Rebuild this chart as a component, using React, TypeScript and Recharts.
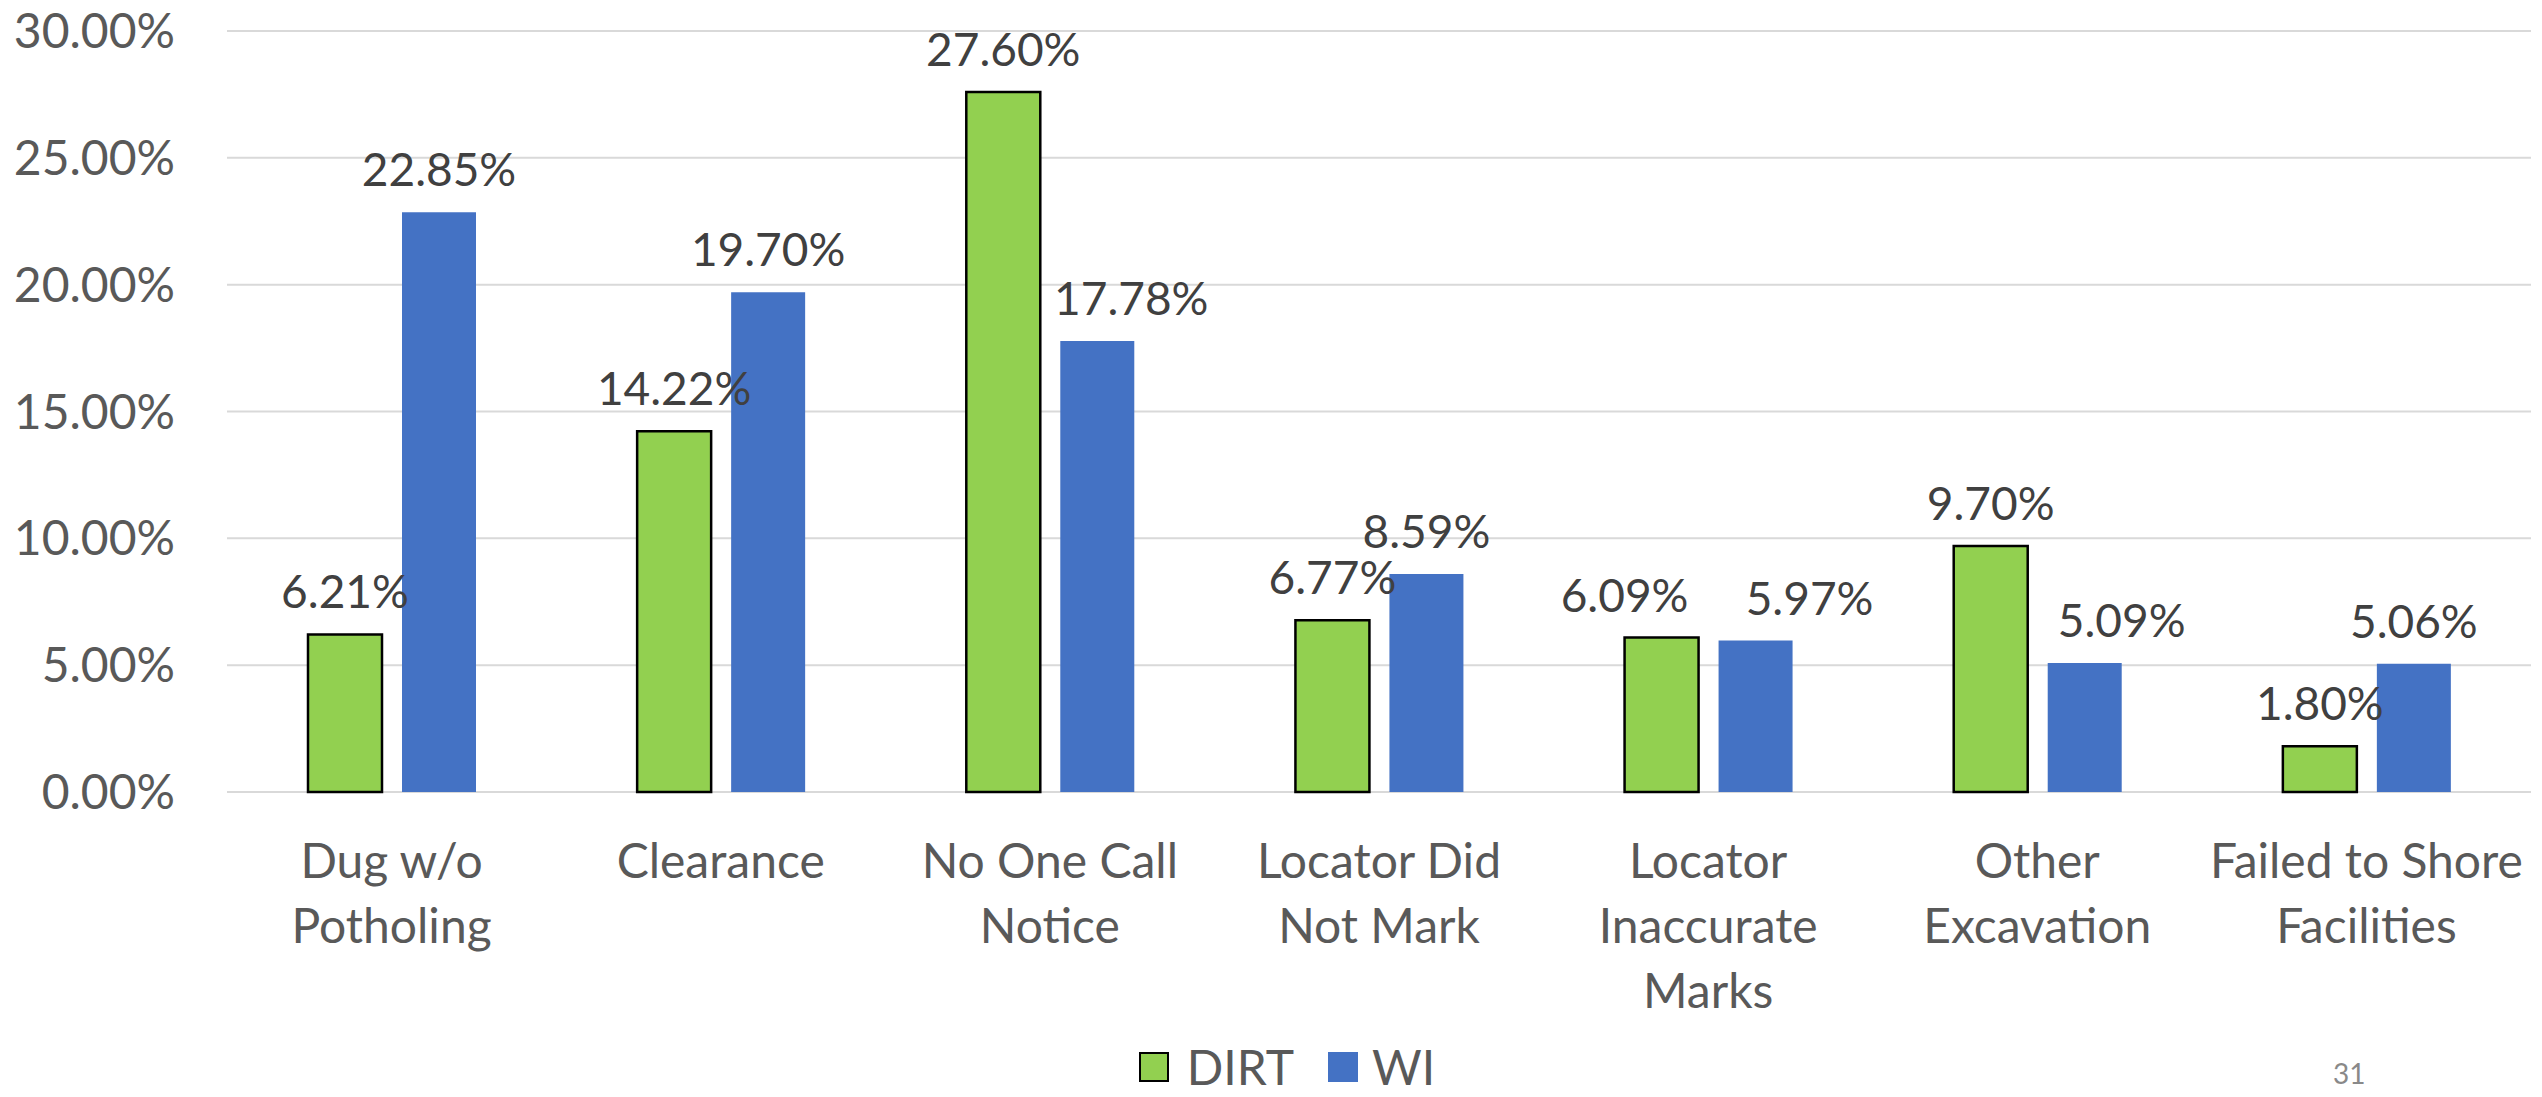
import { BarChart, Bar, XAxis, YAxis, CartesianGrid, Legend, LabelList } from "recharts";

// ─── Data ─────────────────────────────────────────────────────────────────────

const CATEGORIES = [
  "Dug w/o\nPotholing",
  "Clearance",
  "No One Call\nNotice",
  "Locator Did\nNot Mark",
  "Locator\nInaccurate\nMarks",
  "Other\nExcavation",
  "Failed to Shore\nFacilities",
];
const DIRT = [6.21, 14.22, 27.6, 6.77, 6.09, 9.7, 1.8];
const WI = [22.85, 19.7, 17.78, 8.59, 5.97, 5.09, 5.06];
const Y_TICKS = [0, 5, 10, 15, 20, 25, 30];
const PAGE_NUMBER = "31";

const data = CATEGORIES.map((name, i) => ({ name, dirt: DIRT[i], wi: WI[i] }));

// ─── Styles ───────────────────────────────────────────────────────────────────

const FONT = "Lato, 'Noto Sans', sans-serif";
const GREEN = "#92D050";
const BLUE = "#4472C4";
const AXIS_TEXT = "#595959";
const LABEL_TEXT = "#404040";
const GRID = "#D9D9D9";

// Some data labels were nudged sideways in the original deck so they
// don't collide with the neighbouring bar / label.
const DIRT_LABEL_DX = [0, 0, 0, 0, -37, 0, 0];
const WI_LABEL_DX = [0, 0, 34, 0, 54, 37, 0];

const pct = (v: number) => `${v.toFixed(2)}%`;

function makeValueLabel(nudges: number[]) {
  return function ValueLabel(props: any) {
    const { x, y, width, value, index } = props;
    return (
      <text
        x={Number(x) + Number(width) / 2 + (nudges[index] ?? 0)}
        y={Number(y) - 26}
        textAnchor="middle"
        fill={LABEL_TEXT}
        fontSize={46}
        fontFamily={FONT}
      >
        {pct(Number(value))}
      </text>
    );
  };
}

const DirtLabel = makeValueLabel(DIRT_LABEL_DX);
const WiLabel = makeValueLabel(WI_LABEL_DX);

function CategoryTick({ x, y, payload }: any) {
  const lines = String(payload.value).split("\n");
  return (
    <g>
      {lines.map((line, i) => (
        <text
          key={i}
          x={x}
          y={y + 86 + i * 65}
          textAnchor="middle"
          fill={AXIS_TEXT}
          fontSize={48}
          fontFamily={FONT}
        >
          {line}
        </text>
      ))}
    </g>
  );
}

function LegendContent() {
  const item = (color: string, label: string, border: boolean, gapAfter: number) => (
    <div style={{ display: "flex", alignItems: "center", marginRight: gapAfter }}>
      <div
        style={{
          width: 30,
          height: 30,
          boxSizing: "border-box",
          background: color,
          border: border ? "2px solid #000" : "none",
          marginRight: border ? 18 : 14,
        }}
      />
      <span style={{ fontSize: 48, color: AXIS_TEXT, fontFamily: FONT, lineHeight: "60px" }}>{label}</span>
    </div>
  );
  return (
    <div style={{ display: "flex", justifyContent: "center", alignItems: "center", height: 60, paddingLeft: 43 }}>
      {item(GREEN, "DIRT", true, 34)}
      {item(BLUE, "WI", false, 0)}
    </div>
  );
}

export default function App() {
  return (
    <div style={{ position: "absolute", left: 0, top: 0, width: 2542, height: 1097, background: "#fff" }}>
      <BarChart
        width={2542}
        height={1097}
        data={data}
        margin={{ top: 31, right: 11, bottom: 0, left: 0 }}
        barGap={20}
        style={{ fontFamily: FONT }}
      >
        <CartesianGrid vertical={false} stroke={GRID} strokeWidth={2} />
        <XAxis
          dataKey="name"
          axisLine={false}
          tickLine={false}
          tickSize={0}
          tickMargin={0}
          height={245}
          interval={0}
          tick={<CategoryTick />}
        />
        <YAxis
          domain={[0, 30]}
          ticks={Y_TICKS}
          tickFormatter={pct}
          axisLine={false}
          tickLine={false}
          tickSize={0}
          tickMargin={52}
          width={227}
          tick={{ fontSize: 48, fill: AXIS_TEXT, fontFamily: FONT }}
        />
        <Legend verticalAlign="bottom" height={60} content={<LegendContent />} />
        <Bar dataKey="dirt" name="DIRT" fill={GREEN} stroke="#000" strokeWidth={2.5} barSize={74} isAnimationActive={false}>
          <LabelList dataKey="dirt" content={<DirtLabel />} />
        </Bar>
        <Bar dataKey="wi" name="WI" fill={BLUE} barSize={74} isAnimationActive={false}>
          <LabelList dataKey="wi" content={<WiLabel />} />
        </Bar>
      </BarChart>
      <div
        style={{
          position: "absolute",
          left: 2333,
          top: 1055,
          fontSize: 28,
          color: "#898989",
          fontFamily: FONT,
          lineHeight: "36px",
        }}
      >
        {PAGE_NUMBER}
      </div>
    </div>
  );
}
